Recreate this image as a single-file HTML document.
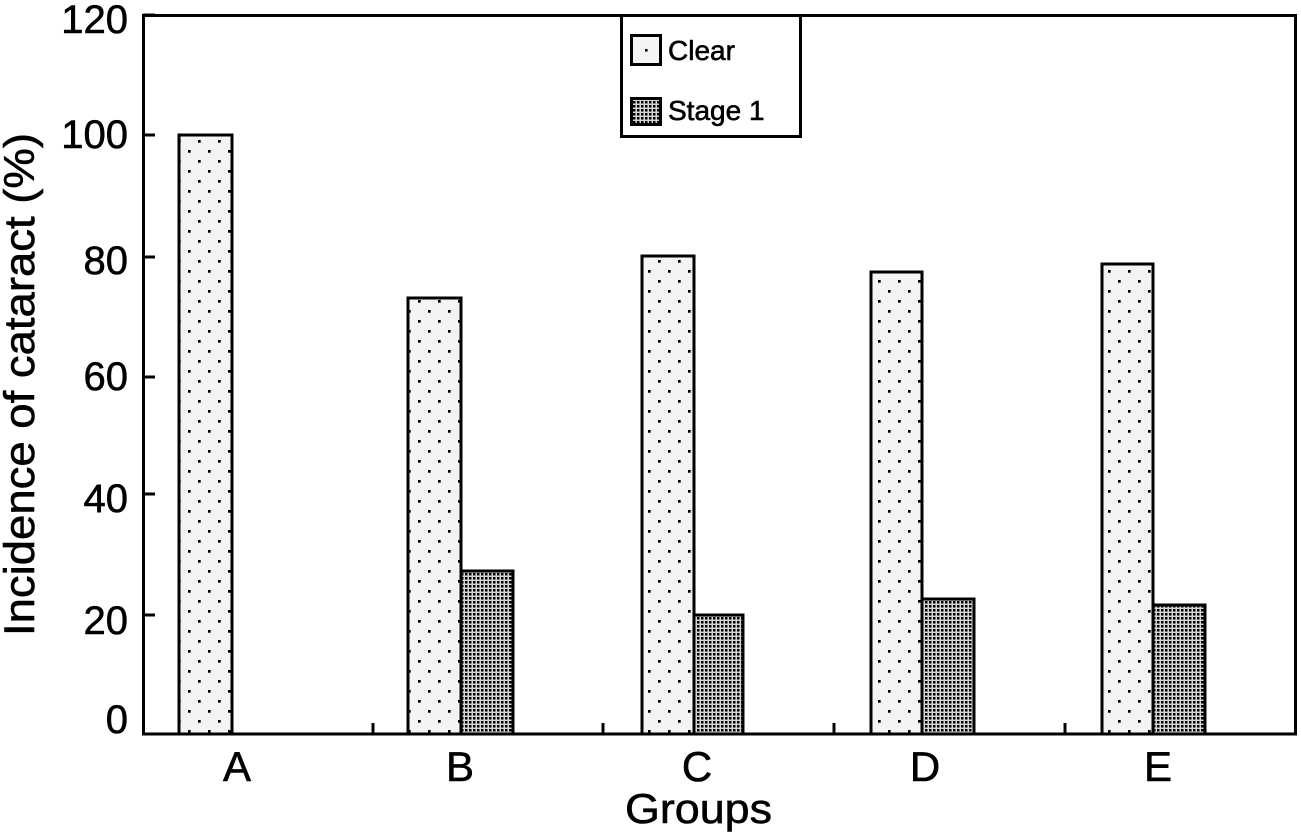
<!DOCTYPE html>
<html>
<head>
<meta charset="utf-8">
<style>
  html,body{margin:0;padding:0;background:#fff;}
  svg{display:block;}
  text{font-family:"Liberation Sans", Arial, sans-serif; fill:#000; stroke:#000; stroke-width:0.6;}
</style>
</head>
<body>
<svg width="1301" height="839" viewBox="0 0 1301 839" xmlns="http://www.w3.org/2000/svg">
  <defs>
    <pattern id="clear" patternUnits="userSpaceOnUse" width="20" height="20" x="409" y="291">
      <rect width="20" height="20" fill="#f4f4f4"/>
      <rect x="9" y="9" width="2.7" height="2.7" fill="#000"/>
      <rect x="-1" y="-1" width="2.7" height="2.7" fill="#000"/>
      <rect x="19" y="-1" width="2.7" height="2.7" fill="#000"/>
      <rect x="-1" y="19" width="2.7" height="2.7" fill="#000"/>
      <rect x="19" y="19" width="2.7" height="2.7" fill="#000"/>
    </pattern>
    <pattern id="stage" patternUnits="userSpaceOnUse" width="4" height="4">
      <rect width="4" height="4" fill="#d6d6d6"/>
      <rect x="1" y="1" width="2.5" height="2.5" fill="#000"/>
    </pattern>
  </defs>

  <rect width="1301" height="839" fill="#fff"/>

  <!-- bars -->
  <g stroke="#000" stroke-width="3">
    <rect x="179" y="135" width="53" height="599" fill="url(#clear)"/>

    <rect x="408" y="298" width="53" height="436" fill="url(#clear)"/>
    <rect x="461" y="571" width="52" height="163" fill="url(#stage)"/>

    <rect x="642" y="256" width="52" height="478" fill="url(#clear)"/>
    <rect x="694" y="615" width="49" height="119" fill="url(#stage)"/>

    <rect x="871" y="272" width="51" height="462" fill="url(#clear)"/>
    <rect x="922" y="599" width="52" height="135" fill="url(#stage)"/>

    <rect x="1102" y="264" width="51" height="470" fill="url(#clear)"/>
    <rect x="1153" y="605" width="52" height="129" fill="url(#stage)"/>
  </g>

  <!-- axes box -->
  <rect x="143.5" y="15.5" width="1152" height="718.5" fill="none" stroke="#000" stroke-width="3"/>

  <!-- y ticks -->
  <g stroke="#000" stroke-width="3">
    <line x1="143" y1="15" x2="155" y2="15"/>
    <line x1="143" y1="135" x2="155" y2="135"/>
    <line x1="143" y1="257" x2="155" y2="257"/>
    <line x1="143" y1="377" x2="155" y2="377"/>
    <line x1="143" y1="494" x2="155" y2="494"/>
    <line x1="143" y1="615" x2="155" y2="615"/>
    <!-- x ticks -->
    <line x1="373" y1="734" x2="373" y2="723"/>
    <line x1="603" y1="734" x2="603" y2="723"/>
    <line x1="834" y1="734" x2="834" y2="723"/>
    <line x1="1065" y1="734" x2="1065" y2="723"/>
  </g>

  <!-- y tick labels -->
  <g font-size="40" text-anchor="end">
    <text x="128" y="33">120</text>
    <text x="128" y="148">100</text>
    <text x="128" y="274">80</text>
    <text x="128" y="390">60</text>
    <text x="128" y="512">40</text>
    <text x="128" y="634">20</text>
    <text x="128" y="733">0</text>
  </g>

  <!-- x tick labels -->
  <g font-size="42" text-anchor="middle">
    <text x="237" y="781">A</text>
    <text x="460" y="781">B</text>
    <text x="697" y="781">C</text>
    <text x="925" y="781">D</text>
    <text x="1158" y="781">E</text>
  </g>

  <!-- axis titles -->
  <text x="698.5" y="823" font-size="42" text-anchor="middle" textLength="147" lengthAdjust="spacingAndGlyphs">Groups</text>
  <g transform="translate(34,384.5) rotate(-90)">
    <text x="0" y="0" font-size="43" text-anchor="middle" textLength="503" lengthAdjust="spacingAndGlyphs">Incidence of cataract (%)</text>
  </g>

  <!-- legend -->
  <rect x="621.5" y="15.5" width="179" height="121" fill="#fff" stroke="#000" stroke-width="3"/>
  <rect x="631.5" y="35.5" width="29" height="29" fill="#f4f4f4" stroke="#000" stroke-width="3"/>
  <rect x="645" y="49" width="2.6" height="2.6" fill="#000"/>
  <rect x="631.5" y="98.5" width="29" height="26" fill="url(#stage)" stroke="#000" stroke-width="3"/>
  <text x="668" y="60" font-size="28">Clear</text>
  <text x="668" y="120" font-size="28">Stage 1</text>
</svg>
</body>
</html>
